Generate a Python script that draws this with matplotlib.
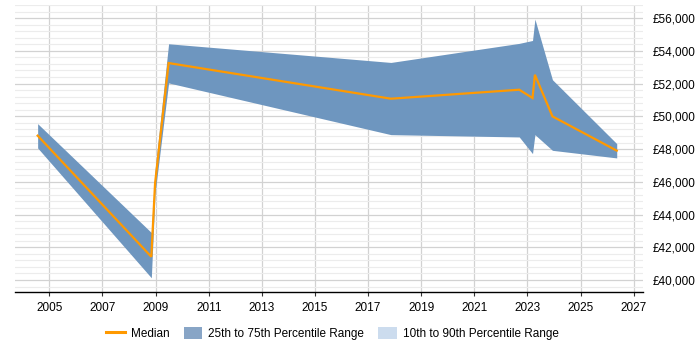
import matplotlib
matplotlib.use("Agg")
import matplotlib.pyplot as plt
from matplotlib.patches import Patch
from matplotlib.lines import Line2D
from matplotlib.ticker import MultipleLocator, FuncFormatter

plt.rcParams['font.family'] = ['Liberation Sans', 'DejaVu Sans']

years = [2004.56, 2008.84, 2008.98, 2009.49, 2017.86, 2022.69, 2023.19, 2023.28, 2023.94, 2026.36]
median = [48819, 41420, 45900, 53254, 51076, 51625, 51119, 52540, 49996, 47904]
p25 = [48068, 40137, 45300, 52040, 48880, 48739, 47721, 48880, 47922, 47458]
p75 = [49551, 42900, 46700, 54432, 53291, 54456, 54633, 55939, 52235, 48331]
xticks = list(range(2005, 2028, 2))
legend_labels = ["Median", "25th to 75th Percentile Range", "10th to 90th Percentile Range"]

band_color = '#6e96bf'
median_color = '#ff9900'
outer_color = '#ccdcee'

fig = plt.figure(figsize=(7, 3.5), dpi=100)
ax = fig.add_axes([0.0219, 0.1649, 0.8967, 0.8208])

ax.fill_between(years, p25, p75, color=band_color, linewidth=0, zorder=2)
ax.plot(years, median, color=median_color, linewidth=1.6, zorder=3, solid_joinstyle='miter')

ax.set_xlim(2003.72, 2027.35)
ax.set_ylim(39250, 56800)

ax.set_xticks(xticks)
ax.set_xticklabels([str(t) for t in xticks])
ax.yaxis.set_major_locator(MultipleLocator(2000))
ax.yaxis.set_minor_locator(MultipleLocator(400))
ax.yaxis.set_major_formatter(FuncFormatter(lambda v, p: "£{:,.0f}".format(v)))
ax.yaxis.tick_right()

ax.grid(axis='y', which='major', color='#d2d2d2', linewidth=0.9, zorder=0)
ax.grid(axis='y', which='minor', color='#ececec', linewidth=0.8, zorder=0)
ax.grid(axis='x', which='major', color='#d2d2d2', linewidth=0.9, zorder=0)
ax.set_axisbelow(True)

for s in ['left', 'right', 'top']:
    ax.spines[s].set_visible(False)
ax.spines['bottom'].set_color('black')
ax.spines['bottom'].set_linewidth(1.0)

ax.tick_params(axis='x', length=3, width=0.8, color='#333333', labelsize=8.5, pad=4)
ax.tick_params(axis='y', which='both', length=0, labelsize=8.5, pad=7)

handles = [
    Line2D([0], [0], color=median_color, linewidth=2.2),
    Patch(facecolor='#88a5c6', edgecolor='none'),
    Patch(facecolor=outer_color, edgecolor='none'),
]
fig.legend(handles, legend_labels, loc='center', bbox_to_anchor=(0.475, 0.047), ncol=3,
           frameon=False, fontsize=8.5, handlelength=1.6, handleheight=1.2,
           columnspacing=1.2, handletextpad=0.5)

fig.savefig('out.png', dpi=100)
